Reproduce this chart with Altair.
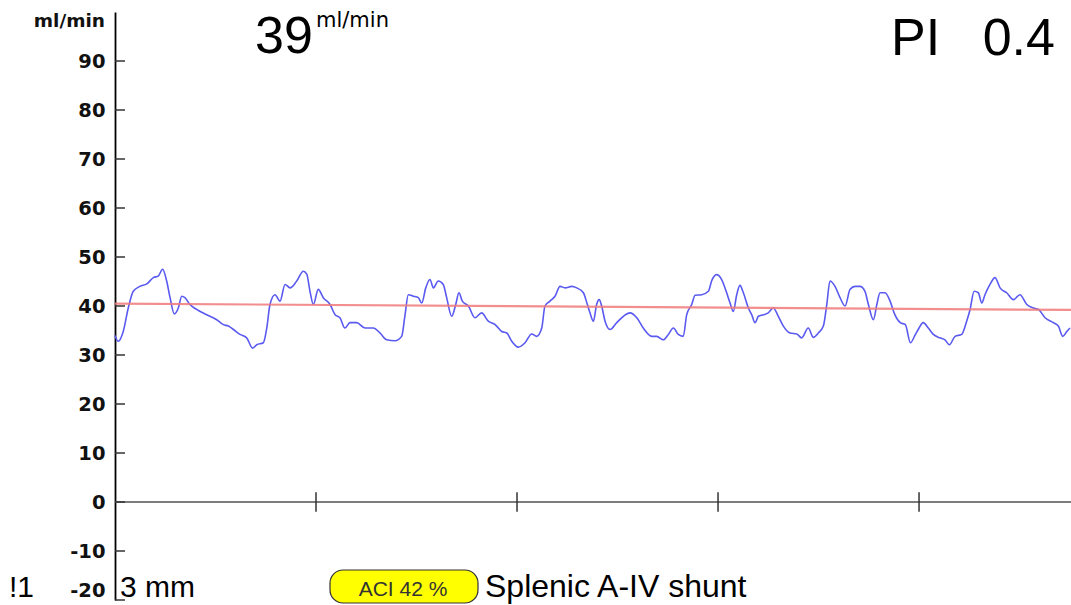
import altair as alt
import pandas as pd

# ---- data ----
wave_t = [0.000, 0.016, 0.041, 0.066, 0.091, 0.124, 0.158, 0.191, 0.215, 0.237, 0.257, 0.274, 0.295, 0.315,
          0.332, 0.348, 0.373, 0.406, 0.456, 0.506, 0.539, 0.564, 0.589, 0.622, 0.655, 0.685, 0.705, 0.738,
          0.755, 0.771, 0.796, 0.821, 0.846, 0.871, 0.904, 0.937, 0.954, 0.970, 0.987, 1.011, 1.036, 1.070,
          1.095, 1.119, 1.144, 1.169, 1.202, 1.244, 1.285, 1.318, 1.352, 1.393, 1.426, 1.443, 1.459, 1.484,
          1.509, 1.526, 1.546, 1.567, 1.584, 1.608, 1.633, 1.650, 1.675, 1.695, 1.711, 1.728, 1.758, 1.791,
          1.824, 1.857, 1.891, 1.924, 1.949, 1.974, 2.006, 2.040, 2.073, 2.098, 2.123, 2.139, 2.164, 2.189,
          2.214, 2.239, 2.272, 2.297, 2.330, 2.350, 2.363, 2.380, 2.396, 2.409, 2.421, 2.438, 2.463, 2.496,
          2.529, 2.562, 2.596, 2.628, 2.670, 2.695, 2.728, 2.753, 2.778, 2.802, 2.827, 2.844, 2.869, 2.886,
          2.919, 2.952, 2.968, 2.993, 3.018, 3.043, 3.060, 3.076, 3.093, 3.109, 3.126, 3.151, 3.168, 3.184,
          3.201, 3.225, 3.250, 3.275, 3.300, 3.325, 3.358, 3.392, 3.416, 3.449, 3.474, 3.499, 3.524, 3.541,
          3.557, 3.582, 3.607, 3.632, 3.657, 3.682, 3.706, 3.731, 3.748, 3.773, 3.790, 3.806, 3.831, 3.856,
          3.877, 3.907, 3.932, 3.957, 3.982, 3.996, 4.021, 4.046, 4.071, 4.104, 4.129, 4.151, 4.179, 4.212,
          4.237, 4.254, 4.274, 4.295, 4.312, 4.328, 4.353, 4.378, 4.403, 4.436, 4.469, 4.502, 4.536, 4.569,
          4.594, 4.627, 4.668, 4.693, 4.715, 4.735, 4.751]
wave_v = [34.0, 32.8, 34.8, 39.6, 43.0, 44.0, 44.5, 45.8, 46.1, 47.5, 45.1, 41.7, 38.4, 39.6,
          42.0, 41.7, 40.3, 39.3, 38.2, 37.2, 36.2, 35.9, 35.2, 34.2, 33.5, 31.4, 32.1, 32.5,
          35.5, 40.3, 42.3, 41.0, 44.4, 43.7, 45.1, 47.1, 46.5, 43.0, 40.3, 43.4, 41.7, 40.3,
          38.2, 37.6, 35.5, 36.6, 36.6, 35.5, 35.5, 34.5, 33.1, 32.9, 33.8, 38.2, 42.3, 42.0,
          41.7, 40.6, 43.7, 45.4, 43.7, 45.1, 44.4, 41.7, 37.9, 40.3, 42.7, 41.0, 40.0, 37.6,
          38.6, 36.9, 36.2, 34.8, 34.5, 32.8, 31.6, 32.5, 34.3, 33.8, 35.5, 40.0, 41.0, 42.0,
          44.0, 43.7, 44.0, 43.7, 42.7, 40.3, 38.6, 36.9, 40.3, 41.3, 40.0, 36.9, 35.2, 36.6,
          37.9, 38.6, 37.6, 35.5, 33.8, 33.8, 33.1, 34.2, 35.5, 34.2, 33.8, 38.2, 40.3, 42.2,
          42.3, 43.0, 45.1, 46.4, 45.4, 42.7, 40.6, 38.9, 42.3, 44.2, 42.7, 39.6, 38.2, 36.6,
          37.9, 38.2, 38.6, 39.6, 37.9, 35.9, 34.5, 34.3, 33.5, 35.5, 33.6, 34.5, 35.9, 40.3,
          45.1, 44.0, 41.7, 40.0, 43.4, 44.0, 44.0, 43.0, 40.3, 37.2, 40.3, 42.7, 42.7, 41.0,
          38.5, 36.6, 36.2, 32.5, 34.2, 35.2, 36.6, 35.5, 34.2, 33.5, 33.1, 32.1, 33.8, 34.2,
          36.9, 39.3, 43.0, 42.7, 40.6, 42.3, 44.4, 45.8, 43.7, 42.7, 41.3, 42.3, 40.3, 39.6,
          39.3, 37.6, 36.6, 35.9, 33.8, 34.8, 35.5]
trend_t = [0.0, 4.756]
trend_v = [40.5, 39.2]
y_tick_values = [-20, -10, 0, 10, 20, 30, 40, 50, 60, 70, 80, 90]
x_tick_values = [1, 2, 3, 4]
x_domain = [0, 4.756]
y_domain = [-20, 100]

flow_value = "39"
flow_unit = "ml/min"
pi_label = "PI"
pi_value = "0.4"
axis_unit = "ml/min"
left_cut = "!1"
size_label = "3 mm"
aci_label = "ACI 42 %"
vessel_label = "Splenic A-IV shunt"

W, H = 956, 588

wave = pd.DataFrame({"t": wave_t, "v": wave_v})
trend = pd.DataFrame({"t": trend_t, "v": trend_v})
zero = pd.DataFrame({"t": [x_domain[0]], "t2": [x_domain[1]], "v": [0]})
xt = pd.DataFrame({"t": x_tick_values, "lo": [-2] * len(x_tick_values), "hi": [2] * len(x_tick_values)})
yt = pd.DataFrame({"v": y_tick_values})

xs = alt.Scale(domain=x_domain, nice=False, zero=False)
ys = alt.Scale(domain=y_domain, nice=False, zero=False)

base_line = alt.Chart(wave).mark_line(color="#5a5af0", strokeWidth=1.6, interpolate="monotone").encode(
    x=alt.X("t:Q", scale=xs, axis=None),
    y=alt.Y("v:Q", scale=ys, axis=alt.Axis(
        values=y_tick_values, title=None, ticks=False, grid=False,
        domain=True, domainColor="#000000", domainWidth=1.8,
        labelFont="DejaVu Sans", labelFontWeight="bold", labelFontSize=19.5,
        labelColor="#111111", labelPadding=10,
        labelBaseline={"condition": {"test": "datum.value == -20", "value": "bottom"}, "value": "middle"},
        labelExpr="'' + datum.value", labelOverlap=False, labelFlush=False)),
)

trend_line = alt.Chart(trend).mark_line(color="#f07a7a", strokeWidth=2.2, opacity=0.85).encode(
    x=alt.X("t:Q", scale=xs), y=alt.Y("v:Q", scale=ys))

zero_line = alt.Chart(zero).mark_rule(color="#505050", strokeWidth=1.5).encode(
    x=alt.X("t:Q", scale=xs), x2="t2:Q", y=alt.Y("v:Q", scale=ys))

x_ticks = alt.Chart(xt).mark_rule(color="#333333", strokeWidth=1.5).encode(
    x=alt.X("t:Q", scale=xs), y=alt.Y("lo:Q", scale=ys), y2="hi:Q")

y_ticks = alt.Chart(yt).mark_rule(color="#333333", strokeWidth=1.5).encode(
    y=alt.Y("v:Q", scale=ys), x=alt.value(0), x2=alt.value(10))


def label(txt, x, y, size, font="Liberation Sans", weight="normal", align="left", color="#000000"):
    return alt.Chart(pd.DataFrame({"s": [txt]})).mark_text(
        font=font, fontSize=size, fontWeight=weight, align=align, baseline="alphabetic", color=color
    ).encode(text="s:N", x=alt.value(x), y=alt.value(y))


badge = alt.Chart(pd.DataFrame({"s": [aci_label]})).mark_rect(
    fill="#ffff00", stroke="#333333", strokeWidth=1.2, cornerRadius=13
).encode(x=alt.value(215), x2=alt.value(363), y=alt.value(558), y2=alt.value(591))

texts = [
    label(axis_unit, -10, 15, 18.5, font="DejaVu Sans", weight="bold", align="right", color="#111111"),
    label(flow_value, 140, 41, 52),
    label(flow_unit, 201, 15, 21, font="DejaVu Sans"),
    label(pi_label, 776, 43, 52),
    label(pi_value, 940, 43, 52, align="right"),
    label(left_cut, -106, 585, 30),
    label(size_label, 5, 585, 30),
    label(aci_label, 288, 584, 21, align="center", color="#333333"),
    label(vessel_label, 370, 585, 32),
]

chart = alt.layer(
    base_line, trend_line, zero_line, x_ticks, y_ticks, badge, *texts
).properties(
    width=W, height=H,
    padding={"left": 115, "top": 12, "right": 0, "bottom": 5},
    autosize=alt.AutoSizeParams(type="none"),
    background="white",
).configure_view(stroke=None)

chart.save("out.html", embed_options={"renderer": "svg", "actions": False})
